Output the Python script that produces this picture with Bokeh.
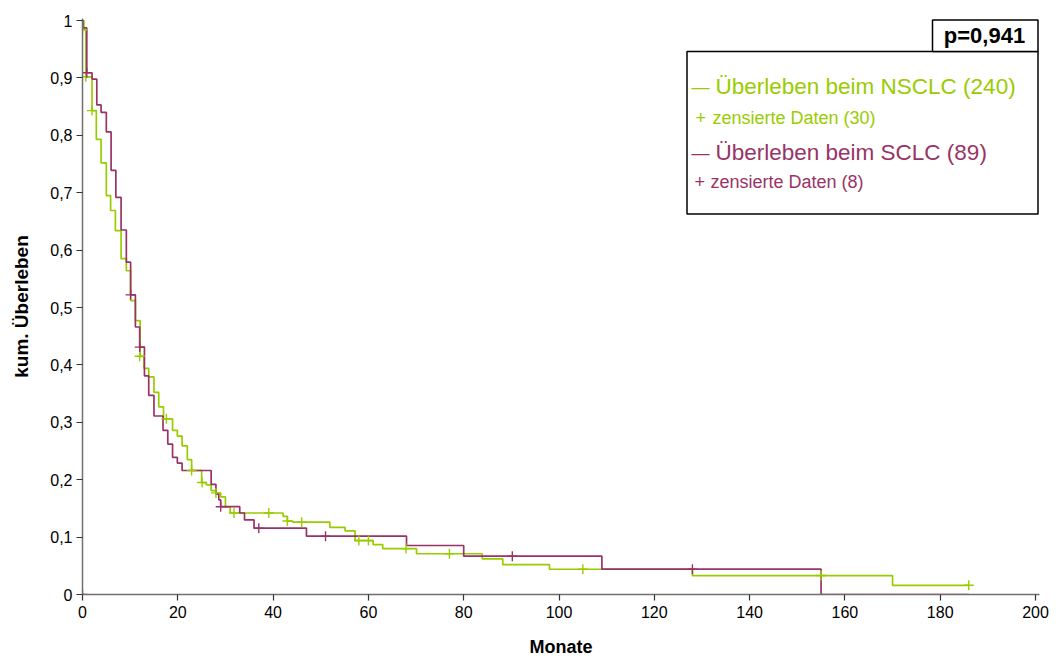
from bokeh.plotting import figure
from bokeh.models import Range1d, FixedTicker, BoxAnnotation, Label
from bokeh.embed import file_html
from bokeh.resources import INLINE

# ---- data ----
nsclc_t = [0, 0.3, 0.7, 2.0, 2.9, 3.9, 5.0, 5.9, 6.9, 8.1, 9.2, 10.1, 11.1, 12.1, 12.9, 13.9,
           15.0, 16.0, 17.0, 18.9, 19.9, 20.9, 22.0, 22.9, 25.0, 26.0, 27.0, 28.0, 29.0, 30.0,
           31.0, 42.1, 43.0, 44.1, 51.9, 55.1, 57.2, 61.0, 63.0, 70.1, 83.9, 88.2, 98.0, 128.0,
           170.0, 186.0]
nsclc_s = [1.0, 0.984, 0.902, 0.843, 0.793, 0.752, 0.695, 0.669, 0.634, 0.585, 0.564, 0.512,
           0.477, 0.415, 0.394, 0.379, 0.352, 0.327, 0.306, 0.286, 0.276, 0.259, 0.235, 0.216,
           0.195, 0.191, 0.181, 0.177, 0.170, 0.152, 0.142, 0.136, 0.128, 0.126, 0.117, 0.111,
           0.094, 0.087, 0.080, 0.071, 0.062, 0.052, 0.044, 0.033, 0.016, 0.016]
nsclc_cens_t = [0.0, 0.7, 2.0, 12.0, 17.6, 22.9, 25.1, 28.0, 31.8, 39.1, 43.0, 46.0, 58.0,
                60.0, 67.9, 77.0, 105.0, 155.0, 186.0]
nsclc_cens_s = [0.984, 0.902, 0.843, 0.415, 0.306, 0.216, 0.195, 0.177, 0.142, 0.142, 0.128,
                0.126, 0.094, 0.094, 0.080, 0.071, 0.044, 0.033, 0.016]

sclc_t = [0, 0.1, 0.9, 2.0, 3.0, 3.9, 5.0, 6.0, 7.0, 8.1, 9.2, 10.1, 11.1, 12.0, 13.0, 13.9,
          15.0, 16.9, 17.9, 18.9, 19.9, 20.9, 27.0, 28.0, 28.6, 29.0, 33.0, 34.0, 36.0, 47.0,
          68.0, 80.0, 109.0, 155.0, 186.0]
sclc_s = [1.0, 0.987, 0.909, 0.898, 0.853, 0.840, 0.806, 0.739, 0.692, 0.635, 0.579, 0.522,
          0.466, 0.431, 0.381, 0.347, 0.311, 0.286, 0.262, 0.239, 0.229, 0.216, 0.192, 0.175,
          0.165, 0.153, 0.142, 0.130, 0.1155, 0.1016, 0.0854, 0.0668, 0.0441, 0.0, 0.0]
sclc_cens_t = [0.0, 0.9, 10.1, 12.0, 29.0, 37.0, 51.0, 90.2, 128.0]
sclc_cens_s = [0.0, 0.909, 0.522, 0.431, 0.153, 0.1155, 0.1016, 0.0668, 0.0441]

x_ticks = [0, 20, 40, 60, 80, 100, 120, 140, 160, 180, 200]
y_ticks = [0, 0.1, 0.2, 0.3, 0.4, 0.5, 0.6, 0.7, 0.8, 0.9, 1.0]
y_tick_labels = ["0", "0,1", "0,2", "0,3", "0,4", "0,5", "0,6", "0,7", "0,8", "0,9", "1"]

legend_big = ["Überleben beim NSCLC (240)", "Überleben beim SCLC (89)"]
legend_small = ["zensierte Daten (30)", "zensierte Daten (8)"]
p_text = "p=0,941"

GREEN = "#99CC00"
PURPLE = "#993366"
FONT = "Liberation Sans"

# ---- layout ----
W, H = 1056, 662
L, R, T, B = 82, 17, 18, 68
PX_PER_X = 953 / 200.0
PX_PER_Y = 574.0
frame_w = W - L - R
frame_h = H - T - B

p = figure(width=W, height=H, output_backend="svg", toolbar_location=None,
           x_range=Range1d(0, frame_w / PX_PER_X), y_range=Range1d(0, frame_h / PX_PER_Y),
           min_border_left=L, min_border_right=R, min_border_top=T, min_border_bottom=B)
p.outline_line_color = None
p.xgrid.visible = False
p.ygrid.visible = False
p.background_fill_color = "white"
p.border_fill_color = "white"


def X(px):
    return (px - L) / PX_PER_X


def Y(py):
    return (T + frame_h - py) / PX_PER_Y


# axes
for ax in (p.xaxis[0], p.yaxis[0]):
    ax.axis_line_color = "#707070"
    ax.axis_line_width = 1.5
    ax.major_tick_line_color = "#333333"
    ax.major_tick_line_width = 1.2
    ax.major_tick_in = 0
    ax.major_tick_out = 6
    ax.minor_tick_line_color = None
    ax.major_label_text_font = FONT
    ax.major_label_text_font_size = "16px"
    ax.major_label_text_color = "black"
    ax.axis_label_text_font = FONT
    ax.axis_label_text_font_style = "bold"
    ax.axis_label_text_color = "black"

p.xaxis.axis_label_text_font_size = "18px"
p.yaxis.axis_label_text_font_size = "19px"
p.xaxis.ticker = FixedTicker(ticks=x_ticks)
p.yaxis.ticker = FixedTicker(ticks=y_ticks)
p.yaxis.major_label_overrides = {t: s for t, s in zip(y_ticks, y_tick_labels)}
p.xaxis.major_label_standoff = 5
p.yaxis.major_label_standoff = 4
p.xaxis.axis_label = "Monate"
p.yaxis.axis_label = "kum. Überleben"
p.xaxis.axis_label_standoff = 16
p.yaxis.axis_label_standoff = 15

# curves
p.step(nsclc_t, nsclc_s, mode="after", line_color=GREEN, line_width=1.7)
p.step(sclc_t, sclc_s, mode="after", line_color=PURPLE, line_width=1.7)
p.scatter(nsclc_cens_t, nsclc_cens_s, marker="cross", size=10, line_color=GREEN, line_width=1.4)
p.scatter(sclc_cens_t, sclc_cens_s, marker="cross", size=10, line_color=PURPLE, line_width=1.4)

# legend / p-value boxes
p.add_layout(BoxAnnotation(left=X(686.5), right=X(1037.5), top=Y(51), bottom=Y(213.5),
                           fill_color="white", fill_alpha=1, line_color="black",
                           line_alpha=1, line_width=1.5))
p.add_layout(BoxAnnotation(left=X(932), right=X(1037.5), top=Y(19.5), bottom=Y(51),
                           fill_color="white", fill_alpha=1, line_color="black",
                           line_alpha=1, line_width=1.5))

SHIFT = 8  # renderer places the alphabetic baseline a little lower
p.add_layout(Label(x=X(984), y=Y(43 - SHIFT), text=p_text, text_align="center",
                   text_baseline="alphabetic", text_font=FONT, text_font_style="bold",
                   text_font_size="22px", text_color="black"))

rows = [
    ("—", "18px", legend_big[0], GREEN, 94, "22.5px", 691, 715),
    ("+", "18px", legend_small[0], GREEN, 125, "18px", 695, 712),
    ("—", "18px", legend_big[1], PURPLE, 160, "22.5px", 691, 715),
    ("+", "18px", legend_small[1], PURPLE, 189, "18px", 694, 710),
]
for sym, sfs, txt, col, base, fs, sx, tx in rows:
    p.add_layout(Label(x=X(sx), y=Y(base - SHIFT), text=sym, text_align="left",
                       text_baseline="alphabetic", text_font=FONT, text_font_size=sfs,
                       text_color=col))
    p.add_layout(Label(x=X(tx), y=Y(base - SHIFT), text=txt, text_align="left",
                       text_baseline="alphabetic", text_font=FONT, text_font_size=fs,
                       text_color=col))

open("out.html", "w").write(file_html(p, INLINE))
